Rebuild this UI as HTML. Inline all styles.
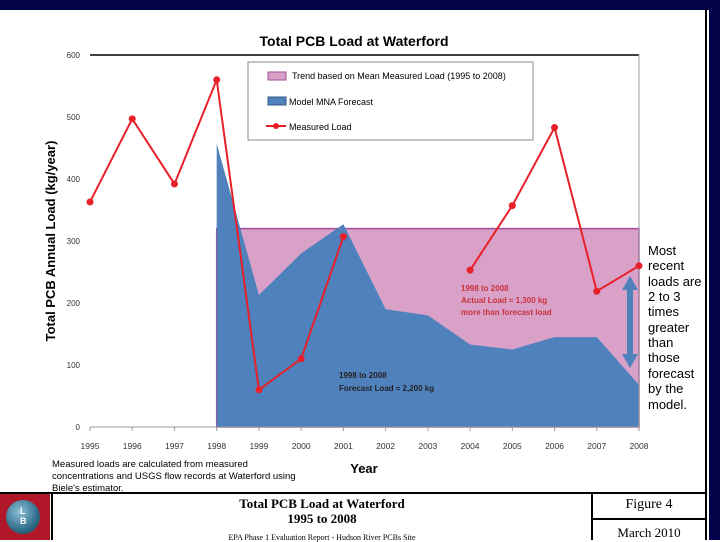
<!DOCTYPE html>
<html><head><meta charset="utf-8"><style>
body{margin:0;width:720px;height:540px;overflow:hidden;background:#fff;font-family:"Liberation Sans",sans-serif;position:relative}
.a{position:absolute}
</style></head><body>
<div class="a" style="left:0;top:0;width:720px;height:10px;background:#03034a"></div>
<div class="a" style="left:709px;top:0;width:11px;height:540px;background:#03034a"></div>
<div class="a" style="left:705px;top:10px;width:2px;height:530px;background:#000"></div>
<svg class="a" style="left:0;top:0" width="705" height="492">
<text x="354" y="46" text-anchor="middle" font-size="14" font-weight="bold">Total PCB Load at Waterford</text>
<g id="g"></g>
<text x="364" y="473" text-anchor="middle" font-size="13" font-weight="bold">Year</text>
<text transform="translate(55,241) rotate(-90)" text-anchor="middle" font-size="13" font-weight="bold">Total PCB Annual Load (kg/year)</text>
<g>
<rect x="248" y="62" width="285" height="78" fill="#fff" stroke="#888"/>
<rect x="268" y="72" width="18" height="8" fill="#d9a0c8" stroke="#a0509a"/>
<text x="292" y="79" font-size="9">Trend based on Mean Measured Load (1995 to 2008)</text>
<rect x="268" y="97" width="18" height="8" fill="#4f81bd" stroke="#385d8a"/>
<text x="289" y="105" font-size="9">Model MNA Forecast</text>
<line x1="266" y1="126" x2="286" y2="126" stroke="#e8202a" stroke-width="2"/><circle cx="276" cy="126" r="3" fill="#e8202a"/>
<text x="289" y="130" font-size="9">Measured Load</text>
</g>
<text font-size="8" font-weight="bold" fill="#c8323a"><tspan x="461" y="291">1998 to 2008</tspan><tspan x="461" y="303">Actual Load ≈ 1,300 kg</tspan><tspan x="461" y="315">more than forecast load</tspan></text>
<text font-size="8" font-weight="bold" fill="#222"><tspan x="339" y="378">1998 to 2008</tspan><tspan x="339" y="391">Forecast Load ≈ 2,200 kg</tspan></text>
<g>
<rect x="627" y="283" width="6" height="80" fill="#4f81bd"/>
<polygon points="630,276 622,290 638,290" fill="#4f81bd"/><polygon points="630,368 622,354 638,354" fill="#4f81bd"/>
</g>
<text font-size="13" fill="#000"><tspan x="648" y="255">Most</tspan><tspan x="648" y="270">recent</tspan><tspan x="648" y="286">loads are</tspan><tspan x="648" y="301">2 to 3</tspan><tspan x="648" y="316">times</tspan><tspan x="648" y="332">greater</tspan><tspan x="648" y="347">than</tspan><tspan x="648" y="362">those</tspan><tspan x="648" y="378">forecast</tspan><tspan x="648" y="393">by the</tspan><tspan x="648" y="409">model.</tspan></text>
<text font-size="9.5"><tspan x="52" y="467">Measured loads are calculated from measured</tspan><tspan x="52" y="479">concentrations and USGS flow records at Waterford using</tspan><tspan x="52" y="491">Biele's estimator.</tspan></text>
</svg>
<div class="a" style="left:0;top:492px;width:705px;height:2px;background:#000"></div>
<div class="a" style="left:0;top:494px;width:50px;height:46px;background:#b0182a"><div style="position:absolute;left:6px;top:6px;width:34px;height:34px;border-radius:50%;background:radial-gradient(circle at 40% 35%,#8fc0d8,#2e6e8a 60%,#1d3e50)"></div><div style="position:absolute;left:20px;top:12px;color:#fff;font-size:9px;font-weight:bold;line-height:10px">L<br>B</div></div>
<div class="a" style="left:51px;top:494px;width:2px;height:46px;background:#000"></div>
<div class="a" style="left:591px;top:494px;width:2px;height:46px;background:#000"></div>
<div class="a" style="left:593px;top:518px;width:112px;height:2px;background:#000"></div>
<div class="a" style="left:53px;top:496px;width:538px;text-align:center;font-family:'Liberation Serif',serif;font-weight:bold;font-size:13px;line-height:15px">Total PCB Load at Waterford<br>1995 to 2008</div>
<div class="a" style="left:53px;top:533px;width:538px;text-align:center;font-family:'Liberation Serif',serif;font-size:8px">EPA Phase 1 Evaluation Report - Hudson River PCBs Site</div>
<div class="a" style="left:593px;top:497px;width:112px;text-align:center;font-family:'Liberation Serif',serif;font-size:14px">Figure 4</div>
<div class="a" style="left:593px;top:525px;width:112px;text-align:center;font-family:'Liberation Serif',serif;font-size:13px">March 2010</div>
<script>
const years=[1995,1996,1997,1998,1999,2000,2001,2002,2003,2004,2005,2006,2007,2008];
const measured=[363,497,392,560,60,110,307,null,null,253,357,483,219,260];
const forecastYears=[1998,1999,2000,2001,2002,2003,2004,2005,2006,2007,2008];
const forecast=[457,213,280,327,190,180,133,125,145,145,68];
const trendYears=[1998,2008];
const trendValue=320;
const yTicks=[0,100,200,300,400,500,600];
const NS='http://www.w3.org/2000/svg';
const X=y=>90+(y-1995)*(639-90)/13;
const Y=v=>427-v*(427-55)/600;
const g=document.getElementById('g');
function mk(t,a){const e=document.createElementNS(NS,t);for(const k in a)e.setAttribute(k,a[k]);g.appendChild(e);return e;}
// trend area
let tr=mk('rect',{x:X(trendYears[0]),y:Y(trendValue),width:X(trendYears[1])-X(trendYears[0]),height:Y(0)-Y(trendValue),fill:'#d9a0c8',stroke:'#a0509a','stroke-width':1.5});


// forecast area
let pts=[X(forecastYears[0])+','+Y(0)];
forecastYears.forEach((yr,i)=>pts.push(X(yr)+','+Y(forecast[i])));
pts.push(X(forecastYears[forecastYears.length-1])+','+Y(0));
let fa=mk('polygon',{points:pts.join(' '),fill:'#4f81bd'});


// axes
mk('line',{x1:90,y1:Y(600),x2:639,y2:Y(600),stroke:'#000','stroke-width':1.5});
mk('line',{x1:90,y1:Y(0),x2:639,y2:Y(0),stroke:'#999'});
mk('line',{x1:639,y1:Y(600),x2:639,y2:Y(0),stroke:'#999'});
yTicks.forEach(v=>{let t=mk('text',{x:80,y:Y(v)+3,'text-anchor':'end','font-size':8,fill:'#333'});t.textContent=v;

});
years.forEach(yr=>{let t=mk('text',{x:X(yr),y:449,'text-anchor':'middle','font-size':8.5,fill:'#333'});t.textContent=yr;


mk('line',{x1:X(yr),y1:Y(0),x2:X(yr),y2:Y(0)+4,stroke:'#999'});});
// measured line with gaps
let seg=[];const segs=[];
measured.forEach((v,i)=>{if(v==null){if(seg.length)segs.push(seg);seg=[];}else seg.push(X(years[i])+','+Y(v));});
if(seg.length)segs.push(seg);
segs.forEach(s=>{let p=mk('polyline',{points:s.join(' '),fill:'none',stroke:'#e8202a','stroke-width':2});

});
measured.forEach((v,i)=>{if(v==null)return;let c=mk('circle',{cx:X(years[i]),cy:Y(v),r:3.5,fill:'#e8202a'});

});
</script>
</body></html>
